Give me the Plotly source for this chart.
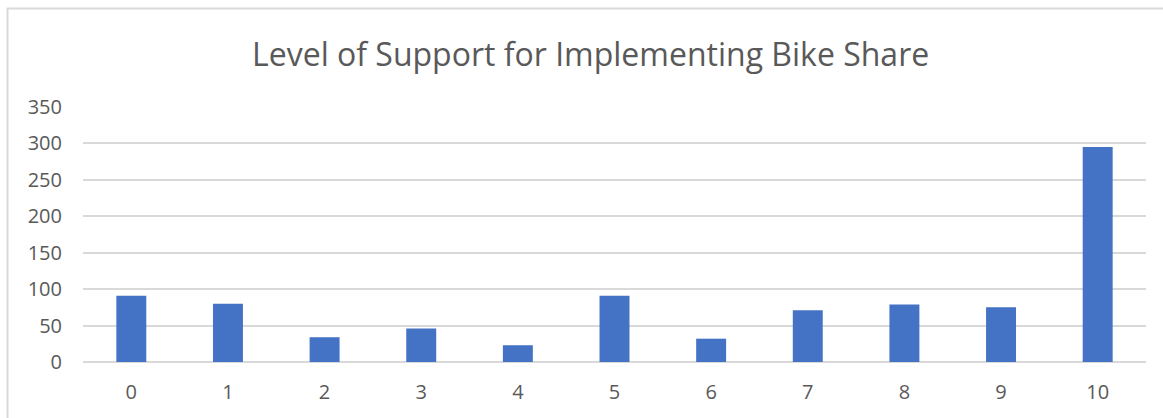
import plotly.graph_objects as go

categories = ["0", "1", "2", "3", "4", "5", "6", "7", "8", "9", "10"]
responses = [91, 80, 34, 46, 23, 91, 32, 71, 79, 75, 295]
y_ticks = [0, 50, 100, 150, 200, 250, 300, 350]
title_text = "Level of Support for Implementing Bike Share"

W, H = 1163, 418
L, R, T, B = 83, 17, 107, 56

fig = go.Figure(
    go.Bar(
        x=categories,
        y=responses,
        marker=dict(color="#4472C4", line=dict(width=0)),
        hoverinfo="x+y",
    )
)

fig.update_layout(
    width=W,
    height=H,
    margin=dict(l=L, r=R, t=T, b=B, autoexpand=False),
    paper_bgcolor="white",
    plot_bgcolor="white",
    showlegend=False,
    bargap=0.69,
    font=dict(family="Open Sans", color="#595959"),
    xaxis=dict(
        type="category",
        showgrid=False,
        showline=False,
        zeroline=False,
        ticks="",
        tickfont=dict(size=20, color="#595959"),
        ticklabelstandoff=16,
    ),
    yaxis=dict(
        range=[0, 350],
        tickvals=y_ticks,
        showgrid=True,
        gridcolor="#D9D9D9",
        gridwidth=1.5,
        zeroline=True,
        zerolinecolor="#D9D9D9",
        zerolinewidth=1.5,
        showline=False,
        ticks="",
        tickfont=dict(size=20, color="#595959"),
        ticklabelstandoff=20,
    ),
    annotations=[
        dict(
            text=title_text,
            xref="paper",
            yref="paper",
            x=(590 - L) / (W - L - R),
            y=1 + (T - 53) / (H - T - B),
            xanchor="center",
            yanchor="middle",
            showarrow=False,
            font=dict(family="Open Sans", size=32, color="#595959"),
        )
    ],
    shapes=[
        dict(
            type="rect",
            xref="paper",
            yref="paper",
            x0=(7.5 - L) / (W - L - R),
            x1=(W + 10 - L) / (W - L - R),
            y0=1 + (T - 8.5) / (H - T - B),
            y1=-(B + 10) / (H - T - B),
            line=dict(color="#D9D9D9", width=2),
            fillcolor="rgba(0,0,0,0)",
            layer="below",
        )
    ],
)

fig.write_html(
    "out.html",
    config={"displayModeBar": False},
    post_script="document.body.style.margin='0';document.body.style.overflow='hidden';",
)
